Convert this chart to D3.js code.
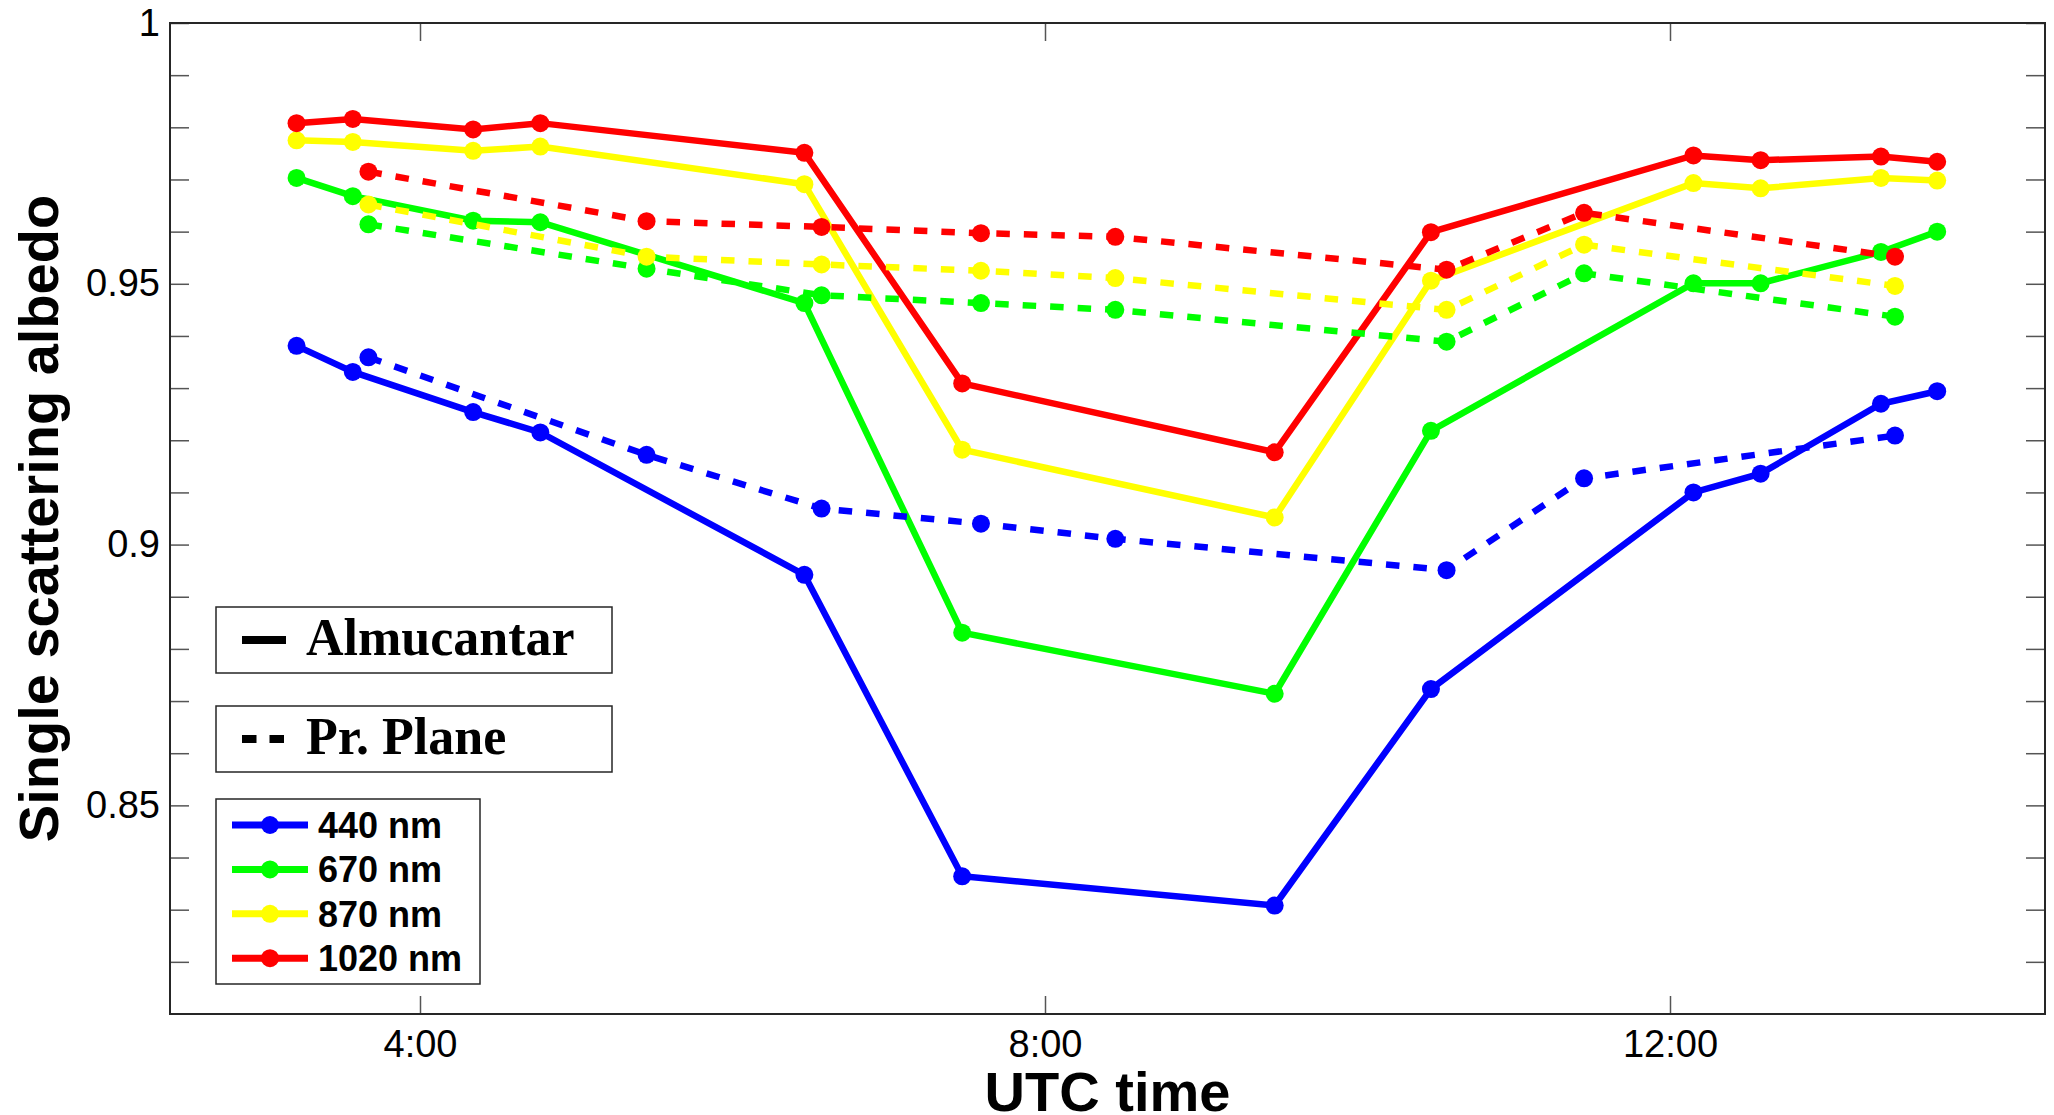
<!DOCTYPE html>
<html>
<head>
<meta charset="utf-8">
<script src="https://cdn.jsdelivr.net/npm/d3@7"></script>
<style>
  body { margin: 0; background: #fff; }
  svg { display: block; }
  .tick text { font-family: "Liberation Sans", Arial, sans-serif; font-size: 38px; fill: #000; }
  .tick line { stroke: #555; stroke-width: 1.5px; }
  .domain { display: none; }
</style>
</head>
<body>
<div id="chart"></div>
<script>
// hours (UTC) of each retrieval
var almTimes = [3.21, 3.57, 4.34, 4.77, 6.46, 7.47, 9.47, 10.47, 12.15, 12.58, 13.35, 13.71]
var ppTimes = [3.67, 5.45, 6.57, 7.59, 8.45, 10.57, 11.45, 13.44]

// Almucantar SSA
var alm440 = [0.9381, 0.9331, 0.9254, 0.9215, 0.8942, 0.8364, 0.8308, 0.8723, 0.9100, 0.9136, 0.9270, 0.9294]
var alm670 = [0.9703, 0.9668, 0.9621, 0.9618, 0.9463, 0.8831, 0.8714, 0.9218, 0.9501, 0.9501, 0.9561, 0.9600]
var alm870 = [0.9775, 0.9772, 0.9755, 0.9763, 0.9691, 0.9182, 0.9052, 0.9506, 0.9693, 0.9683, 0.9703, 0.9698]
var alm1020 = [0.9808, 0.9816, 0.9796, 0.9808, 0.9751, 0.9309, 0.9177, 0.9599, 0.9746, 0.9737, 0.9744, 0.9734]

// Principal plane SSA
var pp440 = [0.9359, 0.9172, 0.9069, 0.9040, 0.9011, 0.8951, 0.9127, 0.9209]
var pp670 = [0.9614, 0.9529, 0.9478, 0.9463, 0.9450, 0.9389, 0.9520, 0.9437]
var pp870 = [0.9652, 0.9552, 0.9537, 0.9525, 0.9511, 0.9450, 0.9575, 0.9496]
var pp1020 = [0.9715, 0.9620, 0.9609, 0.9597, 0.9590, 0.9527, 0.9636, 0.9552]

var wavelengths = ["440 nm", "670 nm", "870 nm", "1020 nm"]
var colors = ["#0000ff", "#00ff00", "#ffff00", "#ff0000"]
var xTicks = [4, 8, 12]
var yTicks = d3.range(82, 101).map(function (d) { return d / 100 })
var yLabels = [0.85, 0.9, 0.95, 1]

var fullWidth = 2054, fullHeight = 1115
var margin = { top: 23, right: 9, bottom: 101, left: 170 }
var width = fullWidth - margin.left - margin.right
var height = fullHeight - margin.top - margin.bottom

var xScale = d3.scaleLinear().domain([2.4, 14.4]).range([0, width])
var yScale = d3.scaleLinear().domain([0.81, 1]).range([height, 0])

function zip(times, vals) {
    return times.map(function (t, i) { return { t: t, v: vals[i] } })
}
var series = []
var almVals = [alm440, alm670, alm870, alm1020]
var ppVals = [pp440, pp670, pp870, pp1020]
almVals.forEach(function (v, i) { series.push({ color: colors[i], dashed: false, pts: zip(almTimes, v) }) })
ppVals.forEach(function (v, i) { series.push({ color: colors[i], dashed: true, pts: zip(ppTimes, v) }) })

var svg = d3.select("#chart").append("svg")
    .attr("width", fullWidth)
    .attr("height", fullHeight)

var g = svg.append("g")
    .attr("transform", "translate(" + margin.left + "," + margin.top + ")")

// axes (ticks point inward on all four sides)
var fmtY = function (d) { return yLabels.indexOf(+d.toFixed(2)) >= 0 ? String(+d.toFixed(2)) : "" }

g.append("g")
    .call(d3.axisLeft(yScale).tickValues(yTicks).tickSize(-19).tickPadding(10).tickFormat(fmtY))
g.append("g")
    .attr("transform", "translate(" + width + ",0)")
    .call(d3.axisRight(yScale).tickValues(yTicks).tickSize(-19).tickFormat(""))
g.append("g")
    .attr("transform", "translate(0," + height + ")")
    .call(d3.axisBottom(xScale).tickValues(xTicks).tickSize(-18).tickPadding(16)
        .tickFormat(function (d) { return d + ":00" }))
g.append("g")
    .call(d3.axisTop(xScale).tickValues(xTicks).tickSize(-18).tickFormat(""))

var line = d3.line()
    .x(function (d) { return xScale(d.t) })
    .y(function (d) { return yScale(d.v) })

var s = g.selectAll(".series")
    .data(series)
    .enter()
    .append("g")
    .attr("class", "series")

s.append("path")
    .attr("d", function (d) { return line(d.pts) })
    .attr("fill", "none")
    .attr("stroke", function (d) { return d.color })
    .attr("stroke-width", 6.5)
    .attr("stroke-dasharray", function (d) { return d.dashed ? "13.5 14" : null })

s.selectAll("circle")
    .data(function (d) { return d.pts.map(function (p) { return { t: p.t, v: p.v, color: d.color } }) })
    .enter()
    .append("circle")
    .attr("cx", function (d) { return xScale(d.t) })
    .attr("cy", function (d) { return yScale(d.v) })
    .attr("r", 9)
    .attr("fill", function (d) { return d.color })

// plot frame
g.append("rect")
    .attr("width", width)
    .attr("height", height)
    .attr("fill", "none")
    .attr("stroke", "#262626")
    .attr("stroke-width", 2)

// axis titles
svg.append("text")
    .attr("x", margin.left + width / 2)
    .attr("y", 1111)
    .attr("text-anchor", "middle")
    .style("font-family", "Liberation Sans, Arial, sans-serif")
    .style("font-weight", "bold")
    .style("font-size", "56px")
    .text("UTC time")

svg.append("text")
    .attr("transform", "translate(58," + (margin.top + height / 2) + ") rotate(-90)")
    .attr("text-anchor", "middle")
    .style("font-family", "Liberation Sans, Arial, sans-serif")
    .style("font-weight", "bold")
    .style("font-size", "56px")
    .text("Single scattering albedo")

// method legends
var methodLegend = [
    { label: "Almucantar", y: 607, dash: null },
    { label: "Pr. Plane", y: 706, dash: "14.5 13" }
]
methodLegend.forEach(function (m) {
    var lg = svg.append("g").attr("transform", "translate(216," + m.y + ")")
    lg.append("rect")
        .attr("width", 396).attr("height", 66)
        .attr("fill", "#fff").attr("stroke", "#262626").attr("stroke-width", 1.5)
    lg.append("line")
        .attr("x1", 26).attr("x2", 70).attr("y1", 33).attr("y2", 33)
        .attr("stroke", "#000").attr("stroke-width", 8)
        .attr("stroke-dasharray", m.dash)
    lg.append("text")
        .attr("x", 90).attr("y", 48)
        .style("font-family", "Liberation Serif, 'Times New Roman', serif")
        .style("font-weight", "bold")
        .style("font-size", "52px")
        .text(m.label)
})

// wavelength legend
var wl = svg.append("g").attr("transform", "translate(216,799)")
wl.append("rect")
    .attr("width", 264).attr("height", 185)
    .attr("fill", "#fff").attr("stroke", "#262626").attr("stroke-width", 1.5)
var item = wl.selectAll(".item")
    .data(wavelengths)
    .enter()
    .append("g")
    .attr("transform", function (d, i) { return "translate(0," + (26 + i * 44.4) + ")" })
item.append("line")
    .attr("x1", 16).attr("x2", 92)
    .attr("stroke", function (d, i) { return colors[i] })
    .attr("stroke-width", 7)
item.append("circle")
    .attr("cx", 54).attr("r", 9)
    .attr("fill", function (d, i) { return colors[i] })
item.append("text")
    .attr("x", 102).attr("dy", "0.36em")
    .style("font-family", "Liberation Sans, Arial, sans-serif")
    .style("font-weight", "bold")
    .style("font-size", "36px")
    .text(function (d) { return d })
</script>
</body>
</html>
